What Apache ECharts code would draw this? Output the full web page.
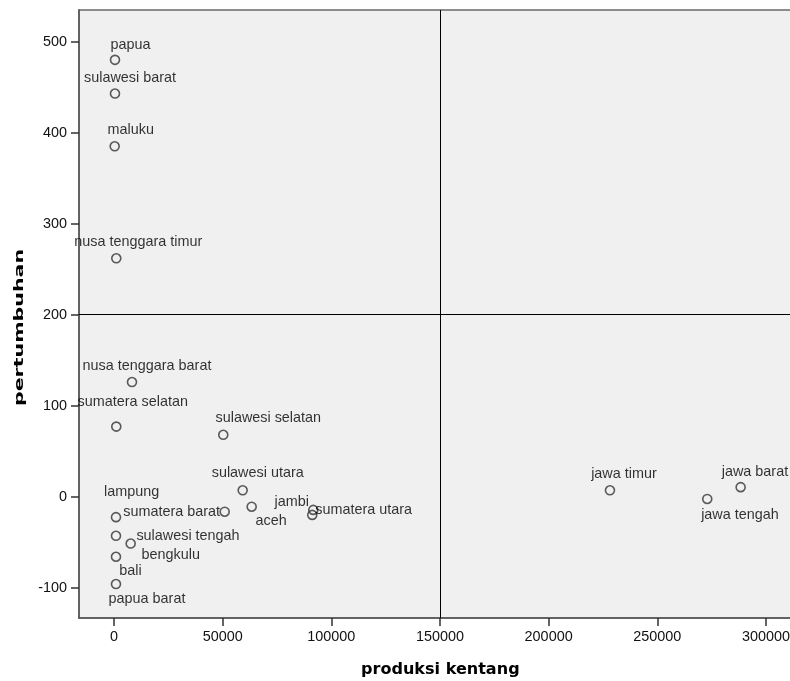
<!DOCTYPE html>
<html>
<head>
<meta charset="utf-8">
<script src="https://cdn.jsdelivr.net/npm/echarts@6/dist/echarts.min.js"></script>
<style>html,body{margin:0;padding:0;background:#fff;}#c{width:790px;height:681px;}</style>
</head>
<body>
<div id="c"></div>
<script>
// ---- data ----
const provinces = ["papua","sulawesi barat","maluku","nusa tenggara timur","nusa tenggara barat","sumatera selatan","sulawesi selatan","sulawesi utara","aceh","sumatera barat","jambi","sumatera utara","lampung","sulawesi tengah","bengkulu","bali","papua barat","jawa timur","jawa tengah","jawa barat"];
const produksiKentang = [460, 460, 320, 1060, 8280, 1060, 50290, 59220, 63360, 50940, 91700, 91240, 920, 920, 7680, 920, 920, 228220, 272990, 288360];
const pertumbuhan = [480, 443, 385, 262, 126, 77, 68, 7, -11, -16.5, -14.5, -20, -22.5, -43, -51.5, -66, -96, 7, -2.5, 10.5];
const xTicks = [0, 50000, 100000, 150000, 200000, 250000, 300000];
const yTicks = [-100, 0, 100, 200, 300, 400, 500];
const refX = 150000;
const refY = 200;

// ---- label placement (style, px offsets from each point) ----
const labelOffsets = [
  [15.5,-15],[15,-16],[16,-16],[22,-16.5],[15,-16],[16.5,-25],[45,-17],[15,-17.4],[19.5,14.3],[-53,0],
  [-21.6,-8.3],[51.4,-5],[15.7,-25],[72,0],[40,11.3],[14.5,14],[31,15],[14,-16.7],[32.7,16],[14.3,-15.3]
];

const chart = echarts.init(document.getElementById('c'));
const labelFont = "'Liberation Sans', Arial, sans-serif";
const points = provinces.map((n, i) => ({
  name: n,
  value: [produksiKentang[i], pertumbuhan[i]],
  label: { offset: labelOffsets[i] }
}));
const plain = v => String(v);

chart.setOption({
  animation: false,
  backgroundColor: '#ffffff',
  grid: {
    left: 79, top: 10, width: 714, height: 608,
    outerBoundsMode: 'none', containLabel: false,
    show: true, backgroundColor: '#f0f0f0', borderColor: '#6a6a6a', borderWidth: 1.5
  },
  xAxis: {
    type: 'value', min: -16100, max: 312450,
    splitLine: { show: false },
    axisLine: { show: true, onZero: false, lineStyle: { color: '#555', width: 1.5 } },
    axisTick: { show: true, length: 8, lineStyle: { color: '#333', width: 1.5 }, customValues: xTicks },
    axisLabel: { customValues: xTicks, formatter: plain, margin: 12, fontSize: 14.4, fontFamily: labelFont, color: '#111' }
  },
  yAxis: {
    type: 'value', min: -133.3, max: 534.8,
    splitLine: { show: false },
    axisLine: { show: true, onZero: false, lineStyle: { color: '#555', width: 1.5 } },
    axisTick: { show: true, length: 8, lineStyle: { color: '#333', width: 1.5 }, customValues: yTicks },
    axisLabel: { customValues: yTicks, formatter: plain, margin: 12, fontSize: 14.4, fontFamily: labelFont, color: '#111' }
  },
  graphic: [
    { type: 'text', x: 440.3, y: 670, scaleX: 1.07, z: 10,
      style: { text: 'produksi kentang', font: "bold 15px 'DejaVu Sans', sans-serif", fill: '#000', textAlign: 'center', textVerticalAlign: 'middle' } },
    { type: 'text', x: 19.5, y: 327.5, rotation: Math.PI / 2, scaleX: 1.58, z: 10,
      style: { text: 'pertumbuhan', font: "bold 13px 'DejaVu Sans', sans-serif", fill: '#000', textAlign: 'center', textVerticalAlign: 'middle' } }
  ],
  series: [{
    type: 'scatter',
    data: points,
    symbol: 'circle',
    symbolSize: 9,
    itemStyle: { color: 'rgba(0,0,0,0)', borderColor: '#333', borderWidth: 1.6 },
    label: { show: true, position: 'inside', formatter: '{b}', fontSize: 14.4, fontFamily: labelFont, color: '#000' },
    emphasis: { disabled: true },
    markLine: {
      silent: true, symbol: 'none', animation: false,
      label: { show: false },
      lineStyle: { color: '#000', width: 1, type: 'solid' },
      data: [{ xAxis: refX }, { yAxis: refY }]
    }
  }]
});
</script>
</body>
</html>
